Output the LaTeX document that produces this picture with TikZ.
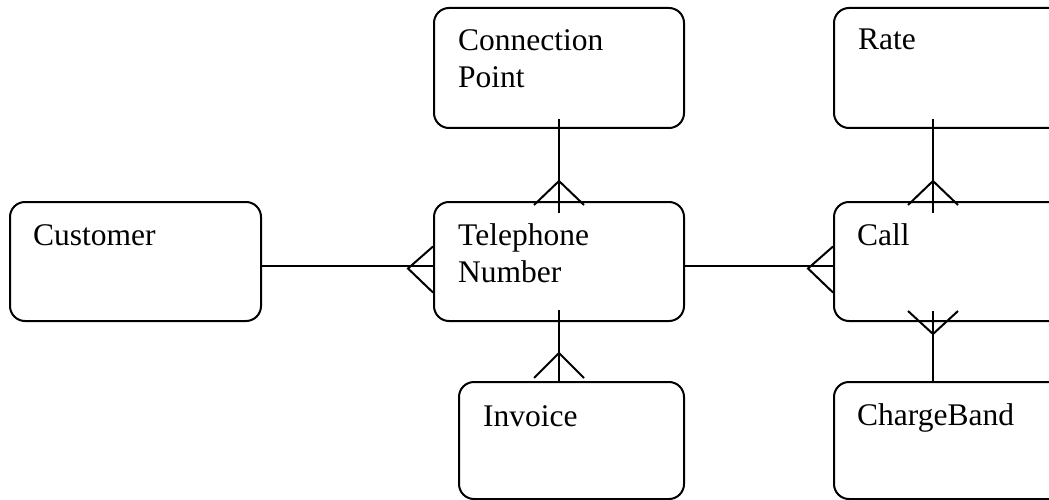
\documentclass[tikz,border=0pt]{standalone}
\usepackage{fontspec}
\setmainfont{Liberation Serif}
\usetikzlibrary{calc}
\begin{document}
\begin{tikzpicture}[x=1pt,y=-1pt,
  entity/.style={draw,line width=2pt,rounded corners=15pt,anchor=north west,inner sep=0pt},
  lbl/.style={anchor=base west,inner sep=0pt,align=left,font=\fontsize{31.5}{37}\selectfont},
  conn/.style={line width=2pt}]
\useasboundingbox (0,0) rectangle (1049,500);
\clip (0,0) rectangle (1049,500);
% entities
\node[entity,minimum width=251pt,minimum height=119pt] (cust) at (9,201) {};
\node[entity,minimum width=250pt,minimum height=119pt] (tn) at (433,201) {};
\node[entity,minimum width=250pt,minimum height=120pt] (cp) at (433,7) {};
\node[entity,minimum width=250pt,minimum height=120pt] (rate) at (833,7) {};
\node[entity,minimum width=250pt,minimum height=119pt] (call) at (833,201) {};
\node[entity,minimum width=225pt,minimum height=117pt] (inv) at (458,381) {};
\node[entity,minimum width=250pt,minimum height=117pt] (cb) at (833,381) {};
% labels (multi-line nodes: base = baseline of last line)
\node[lbl] (custT) at (33,245) {Customer};
\node[lbl] (tnT) at (458,282) {Telephone\\Number};
\node[lbl] (cpT) at (458,88) {Connection\\Point};
\node[lbl] (rateT) at (858,50) {Rate};
\node[lbl] (callT) at (857,245) {Call};
\node[lbl] (invT) at (483,426) {Invoice};
\node[lbl] (cbT) at (857,425) {ChargeBand};
% Customer -- Telephone Number
\draw[conn] ($(cust.east)+(0,4)$) -- ($(tn.west)+(0,4)$);
\draw[conn] ($(tn.west)+(0,-15)$) -- ($(tn.west)+(-25,7)$) -- ($(tn.west)+(0,31)$);
% Telephone Number -- Call
\draw[conn] ($(tn.east)+(0,4)$) -- ($(call.west)+(0,4)$);
\draw[conn] ($(call.west)+(0,-15)$) -- ($(call.west)+(-25,7)$) -- ($(call.west)+(0,31)$);
% Connection Point -- Telephone Number
\draw[conn] ($(cp.south)+(0,-10)$) -- ($(tn.north)+(0,12)$);
\draw[conn] ($(tn.north)+(-25,4)$) -- ($(tn.north)+(0,-20)$) -- ($(tn.north)+(25,4)$);
% Telephone Number -- Invoice
\coordinate (invtop) at (tn.south |- inv.north);
\draw[conn] ($(tn.south)+(0,-12)$) -- (invtop);
\draw[conn] ($(invtop)+(-25,-3)$) -- ($(invtop)+(0,-28)$) -- ($(invtop)+(25,-3)$);
% Rate -- Call
\draw[conn] ($(rate.south west)+(100,-10)$) -- ($(call.north west)+(100,12)$);
\draw[conn] ($(call.north west)+(75,4)$) -- ($(call.north west)+(100,-20)$) -- ($(call.north west)+(125,4)$);
% Call -- ChargeBand
\draw[conn] ($(call.south west)+(100,-11)$) -- ($(cb.north west)+(100,0)$);
\draw[conn] ($(call.south west)+(75,-11)$) -- ($(call.south west)+(100,12)$) -- ($(call.south west)+(125,-11)$);
\end{tikzpicture}
\end{document}
